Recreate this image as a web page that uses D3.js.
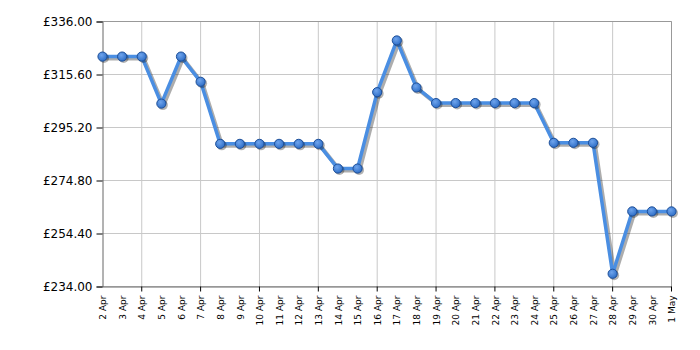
<!DOCTYPE html>
<html><head><meta charset="utf-8">
<script src="https://cdn.jsdelivr.net/npm/d3@7"></script>
<style>body{margin:0;background:#fff}svg{display:block}</style>
</head><body>
<script>
const dates = ["2 Apr","3 Apr","4 Apr","5 Apr","6 Apr","7 Apr","8 Apr","9 Apr","10 Apr","11 Apr","12 Apr","13 Apr","14 Apr","15 Apr","16 Apr","17 Apr","18 Apr","19 Apr","20 Apr","21 Apr","22 Apr","23 Apr","24 Apr","25 Apr","26 Apr","27 Apr","28 Apr","29 Apr","30 Apr","1 May"];
const prices = [322.5,322.5,322.5,304.4,322.5,312.8,288.9,288.9,288.9,288.9,288.9,288.9,279.4,279.4,308.8,328.7,310.6,304.6,304.6,304.6,304.6,304.6,304.6,289.3,289.3,289.3,238.9,262.9,262.9,262.9];
const yTicks = [234.00,254.40,274.80,295.20,315.60,336.00];
const gridDates = ["4 Apr","7 Apr","10 Apr","13 Apr","16 Apr","19 Apr","22 Apr","25 Apr","28 Apr","1 May"];

const W=700,H=350, L=102.5, R=671.5, T=21.5, B=286.5;
const svg = d3.select("body").append("svg").attr("width",W).attr("height",H);
const x = d3.scalePoint().domain(dates).range([L,R]);
const y = d3.scaleLinear().domain([234,336]).range([B,T]);

const defs = svg.append("defs");
const g = defs.append("radialGradient").attr("id","mk").attr("cx","40%").attr("cy","35%").attr("r","65%");
g.append("stop").attr("offset","0%").attr("stop-color","#6fa4ec");
g.append("stop").attr("offset","100%").attr("stop-color","#2f6fc8");

// grid
svg.append("g").selectAll("line").data(yTicks).join("line")
  .attr("x1",L).attr("x2",R).attr("y1",d=>y(d)).attr("y2",d=>y(d))
  .attr("stroke","#c8c8c8").attr("stroke-width",1);
svg.append("g").selectAll("line").data(gridDates).join("line")
  .attr("x1",d=>x(d)).attr("x2",d=>x(d)).attr("y1",T).attr("y2",B)
  .attr("stroke","#c8c8c8").attr("stroke-width",1);
svg.append("line").attr("x1",L).attr("x2",R).attr("y1",T).attr("y2",T).attr("stroke","#999");
svg.append("line").attr("x1",R).attr("x2",R).attr("y1",T).attr("y2",B).attr("stroke","#999");

// axes
const yAxis = d3.axisLeft(y).tickValues(yTicks).tickSize(6).tickPadding(4).tickFormat(d=>"£"+d.toFixed(2));
const ya = svg.append("g").attr("transform",`translate(${L},0)`).call(yAxis);
ya.select(".domain").attr("stroke","#666");
ya.selectAll(".tick line").attr("stroke","#000");
ya.selectAll("text").attr("font-family","Verdana, 'DejaVu Sans', sans-serif").attr("font-size","12px").attr("fill","#000").attr("dy","0.35em");

const xAxis = d3.axisBottom(x).tickSize(0).tickPadding(0);
const xa = svg.append("g").attr("transform",`translate(0,${B})`).call(xAxis);
xa.select(".domain").attr("stroke","#666");
xa.selectAll("text").attr("font-family","Verdana, 'DejaVu Sans', sans-serif").attr("font-size","9px").attr("fill","#000")
  .attr("text-anchor","end").attr("transform","rotate(-90)").attr("x",-9).attr("y",0).attr("dy","0.35em");
svg.append("g").selectAll("line").data(gridDates).join("line")
  .attr("x1",d=>x(d)).attr("x2",d=>x(d)).attr("y1",B).attr("y2",B+5).attr("stroke","#000");

const data = dates.map((d,i)=>({d,v:prices[i]}));
const line = d3.line().x(p=>x(p.d)).y(p=>y(p.v));
svg.append("path").datum(data).attr("d",line).attr("fill","none")
  .attr("stroke","#000").attr("stroke-opacity",0.32).attr("stroke-width",4)
  .attr("stroke-linejoin","round").attr("transform","translate(2,2)");
svg.append("path").datum(data).attr("d",line).attr("fill","none")
  .attr("stroke","#4a8ee2").attr("stroke-width",3.5).attr("stroke-linejoin","round");
svg.append("g").selectAll("circle").data(data).join("circle")
  .attr("cx",p=>x(p.d)+1.5).attr("cy",p=>y(p.v)+1.5).attr("r",5)
  .attr("fill","#000").attr("fill-opacity",0.3);
svg.append("g").selectAll("circle").data(data).join("circle")
  .attr("cx",p=>x(p.d)).attr("cy",p=>y(p.v)).attr("r",4.6)
  .attr("fill","url(#mk)").attr("stroke","#1d4f99").attr("stroke-width",1);
</script>
</body></html>
